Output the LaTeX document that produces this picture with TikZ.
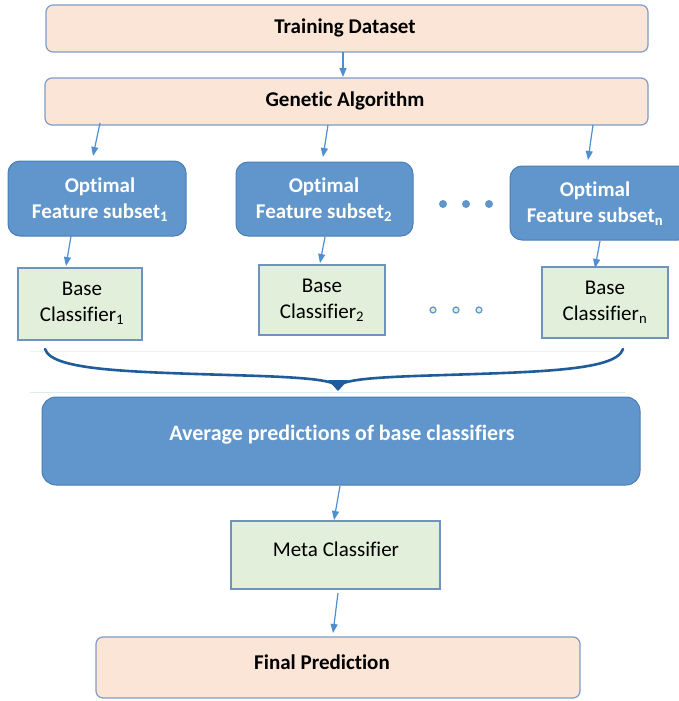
\documentclass[tikz,border=0pt]{standalone}
\usepackage{fontspec}
\setmainfont[Ligatures=CommonOff]{Carlito}
\usetikzlibrary{arrows.meta}
\definecolor{peach}{HTML}{FBE5D6}
\definecolor{peachedge}{HTML}{7E9CC6}
\definecolor{bluebox}{HTML}{6096CB}
\definecolor{blueedge}{HTML}{4A7EB5}
\definecolor{greenbox}{HTML}{E2EFDA}
\definecolor{greenedge}{HTML}{6F93BD}
\definecolor{arrowc}{HTML}{4F8FCF}
\definecolor{bracec}{HTML}{1F5C99}
\tikzset{
  peachbox/.style={draw=peachedge, line width=1.2pt, fill=peach, rounded corners=7pt},
  bluebx/.style={draw=blueedge, line width=1pt, fill=bluebox, rounded corners=12pt},
  greenbx/.style={draw=greenedge, line width=1.2pt, fill=greenbox},
  arr/.style={draw=arrowc, line width=1.2pt, -{Triangle[length=9pt,width=7pt]}},
  lbl/.style={font=\fontsize{21}{26}\selectfont\bfseries, text=black},
  wlbl/.style={font=\fontsize{21}{26}\selectfont\bfseries, text=white, align=center},
  wlblb/.style={font=\fontsize{22}{26}\selectfont\bfseries, text=white, align=center},
  glbl/.style={font=\fontsize{21}{26}\selectfont, text=black, align=center},
}
\begin{document}
\begin{tikzpicture}[x=1pt,y=-1pt]
\useasboundingbox (0,0) rectangle (678,701);
% boxes
\draw[peachbox] (46,5) rectangle (648,52);
\node[lbl] (td) at (345,28) {Training Dataset};
\draw[peachbox] (45,78) rectangle (648,125);
\node[lbl] (ga) at (345,101) {Genetic Algorithm};

\draw[bluebx] (8,161) rectangle (186,236);
\node[wlbl] (o1) at (100,200) {Optimal\\Feature subset\textsubscript{1}};
\draw[bluebx] (236,162) rectangle (413,236);
\node[wlbl] (o2) at (324,200) {Optimal\\Feature subset\textsubscript{2}};
\draw[bluebx] (510,166) rectangle (690,240);
\node[wlbl] (on) at (595,204) {Optimal\\Feature subset\textsubscript{n}};

\foreach \x in {443,466,489} \fill[bluebox] (\x,204) circle (4);
\foreach \x in {433,456,479} \draw[bluebox, line width=1.2pt, fill=greenbox] (\x,310) circle (3);

\draw[greenbx] (18,268) rectangle (142,340);
\node[glbl] (b1) at (82,303) {Base\\Classifier\textsubscript{1}};
\draw[greenbx] (259,265) rectangle (385,335);
\node[glbl] (b2) at (322,300) {Base\\Classifier\textsubscript{2}};
\draw[greenbx] (542,267) rectangle (668,338);
\node[glbl] (bn) at (605,302) {Base\\Classifier\textsubscript{n}};

% faint lines
\draw[draw=black!6, line width=0.8pt] (30,351) -- (625,351);
\draw[draw=teal!15, line width=0.8pt] (30,392) -- (625,392);

% brace
\draw[bracec, line width=2.6pt, line cap=round]
  (45,349) .. controls (52,372) and (140,372) .. (260,376)
  .. controls (315,378) and (332,381) .. (338,386);
\draw[bracec, line width=2.6pt, line cap=round]
  (623,349) .. controls (616,372) and (530,372) .. (415,376)
  .. controls (360,378) and (344,381) .. (338,386);
\fill[bracec] (328,380) -- (348,380) -- (338,391) -- cycle;

\draw[bluebx, rounded corners=14pt] (42,397) rectangle (640,485);
\node[wlblb] (avg) at (342,435) {Average predictions of base classifiers};

\draw[greenbx] (231,521) rectangle (440,589);
\node[glbl] (meta) at (336,549) {Meta Classifier};

\draw[peachbox] (96,637) rectangle (580,698);
\node[lbl] (fp) at (322,662) {Final Prediction};

% arrows
\coordinate (a1s) at (343,52); \coordinate (a1e) at (343,77);
\draw[arr] (a1s) -- (a1e);
\coordinate (g1) at (100,123); \coordinate (g1e) at (93,156);
\coordinate (g2) at (328,125); \coordinate (g2e) at (323,157);
\coordinate (g3) at (593,125); \coordinate (g3e) at (588,160);
\draw[arr] (g1) -- (g1e);
\draw[arr] (g2) -- (g2e);
\draw[arr] (g3) -- (g3e);
\coordinate (o1s) at (71,236); \coordinate (o1e) at (66,266);
\coordinate (o2s) at (325,237); \coordinate (o2e) at (320,263);
\coordinate (ons) at (600,241); \coordinate (one) at (595,268);
\draw[arr] (o1s) -- (o1e);
\draw[arr] (o2s) -- (o2e);
\draw[arr] (ons) -- (one);
\coordinate (av) at (340,486); \coordinate (ave) at (334,520);
\draw[arr] (av) -- (ave);
\coordinate (ms) at (338,593); \coordinate (me) at (333,633);
\draw[arr] (ms) -- (me);
\end{tikzpicture}
\end{document}
